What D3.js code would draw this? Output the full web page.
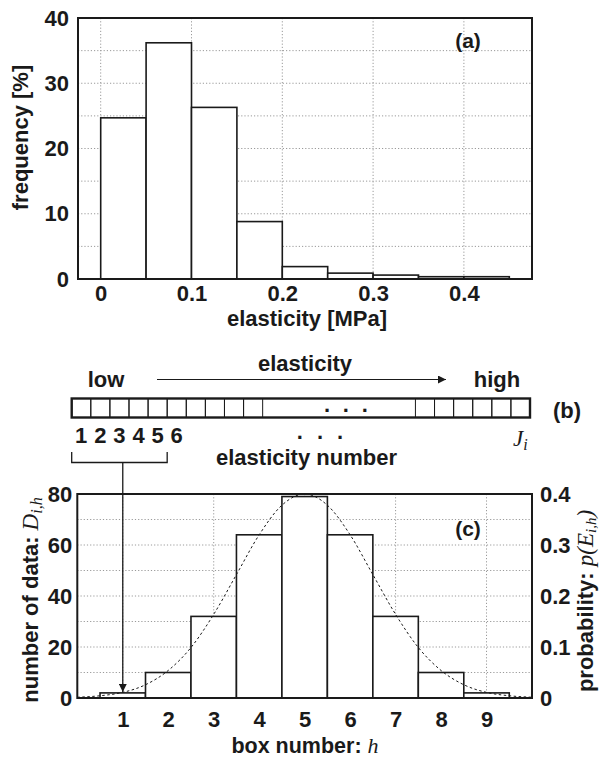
<!DOCTYPE html>
<html><head><meta charset="utf-8">
<script src="https://cdn.jsdelivr.net/npm/d3@7"></script>
<style>
body{margin:0;background:#fff}
svg{display:block}
text{font-family:"Liberation Sans",Arial,Helvetica,sans-serif;font-weight:bold;fill:#1a1a1a}
.math{font-family:"Liberation Serif","Times New Roman",serif;font-style:italic;font-weight:normal}
</style>
</head><body>
<svg id="c" width="602" height="758"></svg>
<script>
// ---------- Panel (a) data ----------
const binStarts = [0, 0.05, 0.1, 0.15, 0.2, 0.25, 0.3, 0.35, 0.4];
const binWidth = 0.05;
const frequency = [24.7, 36.2, 26.3, 8.8, 1.9, 0.9, 0.6, 0.35, 0.35];
const aXTicks = [0, 0.1, 0.2, 0.3, 0.4];
const aYTicks = [0, 10, 20, 30, 40];
const aYGrid = [5, 10, 15, 20, 25, 30, 35];

// ---------- Panel (b) data ----------
const leftCells = [0, 1, 2, 3, 4, 5, 6, 7, 8, 9];
const rightCells = [18, 19, 20, 21, 22, 23];
const cellNumbers = ["1", "2", "3", "4", "5", "6"];
const boxDots = [13.37, 14.36, 15.35];
const numberDots = [11.95, 13, 14.05];

// ---------- Panel (c) data ----------
const boxNumbers = [1, 2, 3, 4, 5, 6, 7, 8, 9];
const dataCounts = [2, 10, 32, 64, 79, 64, 32, 10, 2];
const curveX = [0, 0.5, 1, 1.5, 2, 2.5, 3, 3.5, 4, 4.5, 5, 5.5, 6, 6.5, 7, 7.5, 8, 8.5, 9, 9.5, 10];
const curveP = [0.0015, 0.0044, 0.011, 0.026, 0.054, 0.099, 0.164, 0.242, 0.32, 0.378, 0.4,
                0.378, 0.32, 0.242, 0.164, 0.099, 0.054, 0.026, 0.011, 0.0044, 0.0015];
const cLeftTicks = [0, 20, 40, 60, 80];
const cRightTicks = [0, 0.1, 0.2, 0.3, 0.4];
const cYGrid = [10, 20, 30, 40, 50, 60, 70];
const cXGrid = [1, 3, 5, 7, 9];

const svg = d3.select("#c");
const FS = 22;
const ink = "#1a1a1a";
const gridC = "#9a9a9a";

svg.append("defs").append("marker")
  .attr("id", "ah").attr("viewBox", "0 0 10 10").attr("refX", 10).attr("refY", 5)
  .attr("markerWidth", 12).attr("markerHeight", 8).attr("markerUnits", "userSpaceOnUse")
  .attr("orient", "auto")
  .append("path").attr("d", "M0,0 L10,5 L0,10 Z").attr("fill", ink);

function fmt(d) { return d === 0 ? "0" : String(d); }

function styleAxis(g) {
  g.select(".domain").remove();
  g.selectAll(".tick line").remove();
  g.attr("font-family", null).attr("font-size", null);
  g.selectAll("text").attr("font-size", FS).attr("fill", ink);
}

// ================= Panel (a) =================
{
  const L = 78, R = 532, T = 18, B = 279;
  const x = d3.scaleLinear().domain([-0.025, 0.475]).range([L, R]);
  const y = d3.scaleLinear().domain([0, 40]).range([B, T]);
  const g = svg.append("g");
  g.selectAll(".hg").data(aYGrid).join("line")
    .attr("x1", L).attr("x2", R).attr("y1", d => y(d)).attr("y2", d => y(d))
    .attr("stroke", gridC).attr("stroke-width", 1).attr("stroke-dasharray", "1.2,2");
  g.selectAll(".vg").data(aXTicks).join("line")
    .attr("y1", T).attr("y2", B).attr("x1", d => x(d)).attr("x2", d => x(d))
    .attr("stroke", gridC).attr("stroke-width", 1).attr("stroke-dasharray", "1.2,2");
  g.selectAll(".bar").data(binStarts).join("rect")
    .attr("x", d => x(d)).attr("width", d => x(d + binWidth) - x(d))
    .attr("y", (d, i) => y(frequency[i])).attr("height", (d, i) => B - y(frequency[i]))
    .attr("fill", "#fff").attr("stroke", ink).attr("stroke-width", 1.6);
  g.append("rect").attr("x", L).attr("y", T).attr("width", R - L).attr("height", B - T)
    .attr("fill", "none").attr("stroke", ink).attr("stroke-width", 2);
  svg.append("g").attr("transform", `translate(${L},0)`)
    .call(d3.axisLeft(y).tickValues(aYTicks).tickFormat(fmt).tickSize(0).tickPadding(9)).call(styleAxis);
  svg.append("g").attr("transform", `translate(0,${B})`)
    .call(d3.axisBottom(x).tickValues(aXTicks).tickFormat(fmt).tickSize(0).tickPadding(6)).call(styleAxis);
  svg.append("text").attr("x", 307).attr("y", 326).attr("text-anchor", "middle")
    .attr("font-size", FS).text("elasticity [MPa]");
  svg.append("text").attr("transform", "translate(28,137.5) rotate(-90)").attr("text-anchor", "middle")
    .attr("font-size", FS).text("frequency [%]");
  svg.append("text").attr("x", 468).attr("y", 48).attr("text-anchor", "middle")
    .attr("font-size", 21).text("(a)");
}

// ================= Panel (b) =================
{
  const cx = d3.scaleLinear().domain([0, 24]).range([71.7, 530]);
  const top = 398.5, bot = 417.5;
  const g = svg.append("g");
  g.append("text").attr("x", 305).attr("y", 371).attr("text-anchor", "middle").attr("font-size", FS).text("elasticity");
  g.append("text").attr("x", 106).attr("y", 387).attr("text-anchor", "middle").attr("font-size", FS).text("low");
  g.append("text").attr("x", 497).attr("y", 387).attr("text-anchor", "middle").attr("font-size", FS).text("high");
  g.append("line").attr("x1", 157).attr("x2", 446).attr("y1", 379.5).attr("y2", 379.5)
    .attr("stroke", ink).attr("stroke-width", 1.2).attr("marker-end", "url(#ah)");
  g.selectAll(".lc").data(leftCells.concat(rightCells)).join("rect")
    .attr("x", d => cx(d)).attr("width", d => cx(d + 1) - cx(d))
    .attr("y", top).attr("height", bot - top)
    .attr("fill", "none").attr("stroke", ink).attr("stroke-width", 1);
  g.append("rect").attr("x", cx(0)).attr("y", top).attr("width", cx(24) - cx(0)).attr("height", bot - top)
    .attr("fill", "none").attr("stroke", ink).attr("stroke-width", 2.4);
  g.selectAll(".bd").data(boxDots).join("text")
    .attr("x", d => cx(d)).attr("y", 412).attr("text-anchor", "middle").attr("font-size", FS).text(".");
  g.append("text").attr("x", 567).attr("y", 418).attr("text-anchor", "middle").attr("font-size", FS).text("(b)");
  g.selectAll(".num").data(cellNumbers).join("text")
    .attr("x", (d, i) => cx(i + 0.5)).attr("y", 443).attr("text-anchor", "middle")
    .attr("font-size", FS).text(d => d);
  g.selectAll(".nd").data(numberDots).join("text")
    .attr("x", d => cx(d)).attr("y", 439).attr("text-anchor", "middle").attr("font-size", FS).text(".");
  const ji = g.append("text").attr("class", "math").attr("x", cx(23.5)).attr("y", 446)
    .attr("text-anchor", "middle").attr("font-size", 23);
  ji.append("tspan").text("J");
  ji.append("tspan").attr("font-size", 16).attr("dy", 4).text("i");
  g.append("text").attr("x", 306.5).attr("y", 465).attr("text-anchor", "middle").attr("font-size", FS).text("elasticity number");
  g.append("path").attr("d", `M${cx(0)},452 V462.5 H${cx(5)} V452`)
    .attr("fill", "none").attr("stroke", ink).attr("stroke-width", 1.3);
}

// ================= Panel (c) =================
{
  const L = 77.3, R = 532, T = 494, B = 698;
  const x = d3.scaleLinear().domain([0, 10]).range([L, R]);
  const yL = d3.scaleLinear().domain([0, 80]).range([B, T]);
  const yR = d3.scaleLinear().domain([0, 0.4]).range([B, T]);
  const g = svg.append("g");
  g.selectAll(".hg").data(cYGrid).join("line")
    .attr("x1", L).attr("x2", R).attr("y1", d => yL(d)).attr("y2", d => yL(d))
    .attr("stroke", gridC).attr("stroke-width", 1).attr("stroke-dasharray", "1.2,2");
  g.selectAll(".vg").data(cXGrid).join("line")
    .attr("y1", T).attr("y2", B).attr("x1", d => x(d)).attr("x2", d => x(d))
    .attr("stroke", gridC).attr("stroke-width", 1).attr("stroke-dasharray", "1.2,2");
  g.selectAll(".bar").data(boxNumbers).join("rect")
    .attr("x", d => x(d - 0.5)).attr("width", d => x(d + 0.5) - x(d - 0.5))
    .attr("y", (d, i) => yL(dataCounts[i])).attr("height", (d, i) => B - yL(dataCounts[i]))
    .attr("fill", "#fff").attr("stroke", ink).attr("stroke-width", 1.6);
  const line = d3.line().x(d => x(d[0])).y(d => yR(d[1])).curve(d3.curveMonotoneX);
  g.append("path").datum(curveX.map((v, i) => [v, curveP[i]])).attr("d", line)
    .attr("fill", "none").attr("stroke", ink).attr("stroke-width", 1).attr("stroke-dasharray", "2.5,2.5");
  g.append("rect").attr("x", L).attr("y", T).attr("width", R - L).attr("height", B - T)
    .attr("fill", "none").attr("stroke", ink).attr("stroke-width", 2);
  g.append("line").attr("x1", x(1)).attr("x2", x(1)).attr("y1", 462.5).attr("y2", yL(dataCounts[0]) - 1)
    .attr("stroke", ink).attr("stroke-width", 1.3).attr("marker-end", "url(#ah)");
  svg.append("g").attr("transform", `translate(${L},0)`)
    .call(d3.axisLeft(yL).tickValues(cLeftTicks).tickFormat(fmt).tickSize(0).tickPadding(5)).call(styleAxis);
  svg.append("g").attr("transform", `translate(${R},0)`)
    .call(d3.axisRight(yR).tickValues(cRightTicks).tickFormat(fmt).tickSize(0).tickPadding(8)).call(styleAxis);
  svg.append("g").attr("transform", `translate(0,${B})`)
    .call(d3.axisBottom(x).tickValues(boxNumbers).tickFormat(fmt).tickSize(0).tickPadding(13)).call(styleAxis);
  const xl = svg.append("text").attr("x", 305).attr("y", 753).attr("text-anchor", "middle").attr("font-size", 21.5);
  xl.append("tspan").text("box number: ");
  xl.append("tspan").attr("class", "math").attr("font-size", 22).text("h");
  const ll = svg.append("text").attr("transform", "translate(38,600) rotate(-90)").attr("text-anchor", "middle").attr("font-size", FS);
  ll.append("tspan").text("number of data: ");
  ll.append("tspan").attr("class", "math").attr("font-size", 23).text("D");
  ll.append("tspan").attr("class", "math").attr("font-size", 16).attr("dy", 4).text("i,h");
  const rl = svg.append("text").attr("transform", "translate(593,601) rotate(-90)").attr("text-anchor", "middle").attr("font-size", FS);
  rl.append("tspan").text("probability: ");
  rl.append("tspan").attr("class", "math").attr("font-size", 23).text("p(E");
  rl.append("tspan").attr("class", "math").attr("font-size", 15).attr("dy", 3).text("i,h");
  rl.append("tspan").attr("class", "math").attr("font-size", 23).attr("dy", -3).text(")");
  svg.append("text").attr("x", 468).attr("y", 536).attr("text-anchor", "middle").attr("font-size", 21).text("(c)");
}
</script>
</body></html>
